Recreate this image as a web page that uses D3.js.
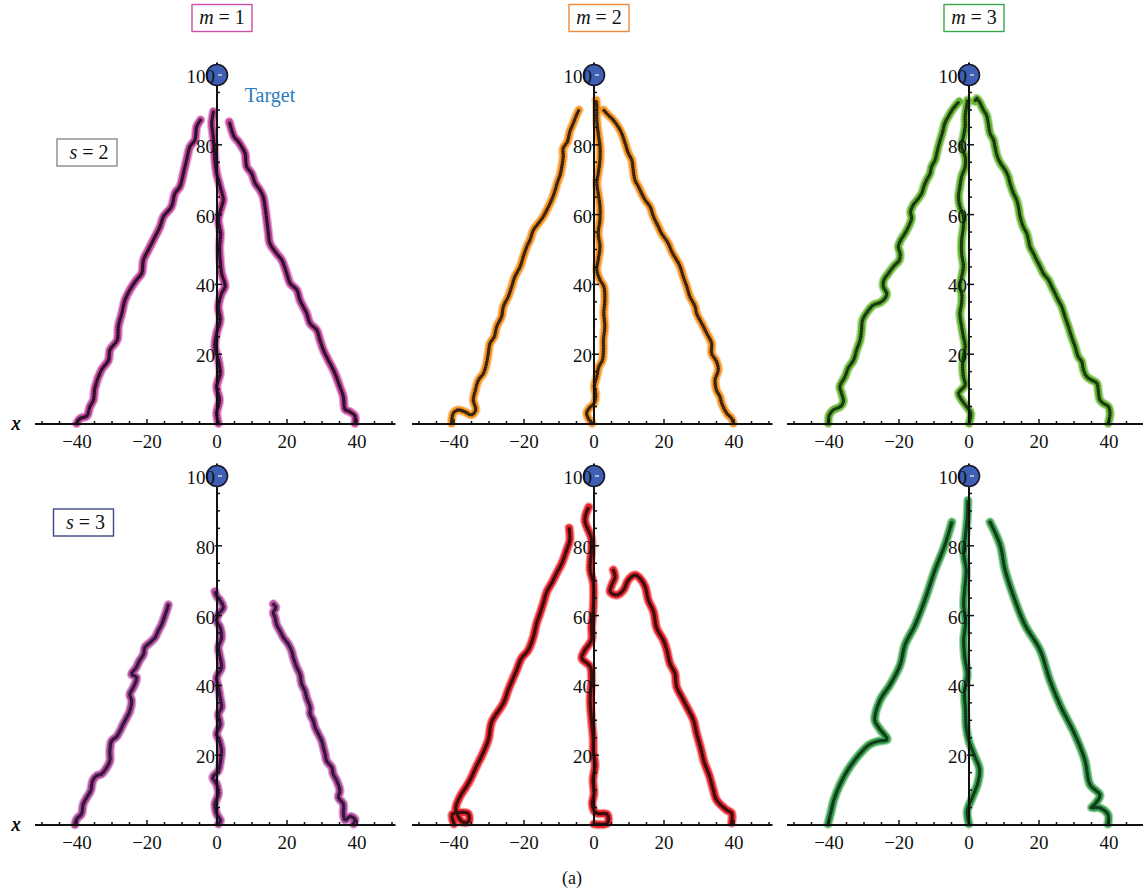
<!DOCTYPE html>
<html lang="en">
<head>
<meta charset="UTF-8">
<title>Trajectories toward the target</title>
<script src="https://cdn.jsdelivr.net/npm/d3@7"></script>
<style>
body { margin: 0; background: #fff; }
text { font-family: "Liberation Serif", "DejaVu Serif", serif; fill: #111; }
</style>
</head>
<body>
<svg width="1143" height="894"></svg>
<script>
// ---- data, [x, y] pairs ----
var m1s2Left = [[-40.1,0.2],[-39.1,1.6],[-37.2,2.3],[-36.3,5.0],[-35.3,6.9],[-34.9,10.2],[-33.0,15.5],[-31.0,18.3],[-30.6,21.2],[-28.5,24.1],[-28.2,27.9],[-27.2,31.7],[-26.3,35.5],[-24.9,38.4],[-23.0,41.3],[-21.5,43.2],[-21.0,47.0],[-19.6,49.9],[-18.2,52.7],[-16.3,56.5],[-15.3,59.4],[-13.0,62.3],[-12.0,66.1],[-10.6,68.0],[-9.6,71.8],[-8.7,75.6],[-7.7,79.5],[-6.3,81.4],[-5.8,85.2],[-4.7,87.1]];
var m1s2Mid = [[0.4,0.2],[-0.1,3.1],[0.7,6.9],[-0.1,10.7],[0.9,14.5],[0.4,18.3],[-0.6,22.2],[-0.1,26.0],[0.9,29.8],[0.4,33.6],[1.3,37.4],[2.3,39.4],[1.3,43.2],[0.9,47.0],[0.7,50.8],[1.0,54.6],[0.4,58.5],[1.3,62.3],[1.8,64.2],[0.9,68.0],[-0.1,71.8],[-0.6,75.6],[-0.8,79.5],[-1.2,83.3],[-1.5,86.2],[-1.0,89.5]];
var m1s2Right = [[39.4,0.2],[39.4,2.3],[38.0,3.5],[36.6,4.2],[36.1,7.8],[35.1,10.7],[33.7,14.5],[32.8,16.4],[31.8,18.3],[30.4,21.2],[29.4,24.1],[28.5,26.9],[26.6,28.8],[25.6,31.7],[23.7,35.5],[22.8,38.4],[20.9,40.3],[19.9,43.2],[18.5,47.0],[17.0,48.9],[15.1,51.8],[14.7,54.6],[14.2,58.5],[13.7,62.3],[13.2,65.1],[12.3,67.0],[10.9,69.0],[9.9,71.8],[8.5,73.7],[8.0,77.6],[7.0,79.5],[6.1,80.9],[4.9,82.3],[4.2,84.2],[3.5,86.6]];

var m2s2Left = [[-40.7,0.2],[-40.2,3.1],[-38.8,4.0],[-36.9,3.5],[-35.0,2.6],[-33.8,4.0],[-34.5,6.9],[-34.0,9.3],[-33.0,12.6],[-31.6,14.5],[-30.7,17.4],[-30.2,20.2],[-29.7,23.1],[-28.5,25.0],[-27.8,27.9],[-26.4,30.8],[-25.9,33.6],[-24.5,36.5],[-23.5,39.4],[-22.6,42.2],[-21.1,45.1],[-20.2,47.9],[-19.2,50.8],[-18.3,52.7],[-17.3,55.6],[-15.9,57.5],[-14.5,59.4],[-13.5,61.3],[-12.1,64.2],[-11.1,67.0],[-10.4,69.4],[-9.7,71.3],[-9.2,73.7],[-8.8,76.6],[-8.8,79.0],[-7.6,80.9],[-6.9,83.8],[-5.9,86.2],[-5.0,88.5],[-4.3,90.0]];
var m2s2Mid = [[-0.5,0.2],[-1.6,1.6],[-2.1,3.1],[-1.4,4.5],[0.0,5.9],[0.5,8.3],[0.1,10.7],[0.8,13.6],[1.4,16.4],[2.4,18.3],[2.7,21.2],[2.7,24.1],[3.1,27.9],[2.8,31.7],[3.1,35.5],[2.8,39.4],[1.7,41.3],[0.8,44.1],[1.2,47.0],[1.7,50.8],[1.2,54.6],[1.7,58.5],[1.7,62.3],[1.2,66.1],[0.8,69.0],[1.2,71.8],[1.7,75.6],[1.7,79.5],[1.2,83.3],[0.8,87.1],[0.8,90.9],[0.6,92.8]];
var m2s2Right = [[39.8,0.2],[39.3,1.6],[37.9,3.1],[36.5,5.9],[36.0,7.8],[35.0,9.7],[34.6,12.6],[35.5,15.5],[35.0,17.9],[33.6,20.2],[33.6,23.1],[32.2,26.0],[30.8,28.8],[29.3,31.7],[28.9,33.6],[27.4,36.5],[26.5,39.4],[25.5,42.2],[24.6,45.1],[23.6,47.0],[22.2,49.4],[21.2,51.8],[19.3,54.6],[18.4,56.5],[17.0,59.4],[16.0,62.3],[14.6,64.2],[13.6,66.1],[12.7,68.0],[11.7,69.9],[11.2,72.8],[10.8,75.6],[9.8,77.6],[8.9,80.4],[7.9,83.3],[6.9,85.2],[5.5,87.1],[4.1,88.5],[2.7,90.0]];

var m3s2Left = [[-40.2,0.2],[-39.9,2.6],[-38.8,4.0],[-36.7,5.0],[-35.9,6.4],[-36.4,8.8],[-36.9,10.7],[-35.4,13.6],[-34.5,16.0],[-33.0,18.3],[-32.1,21.2],[-31.1,24.1],[-30.7,26.9],[-30.4,29.8],[-29.0,32.2],[-27.3,34.1],[-25.4,34.8],[-24.0,36.0],[-23.5,37.4],[-24.5,39.4],[-24.3,41.3],[-23.0,43.2],[-21.6,45.1],[-19.9,47.0],[-19.7,48.9],[-20.2,50.8],[-19.5,52.7],[-18.3,54.6],[-17.3,56.5],[-16.4,58.9],[-16.7,60.8],[-15.9,62.8],[-14.8,64.2],[-13.5,66.1],[-12.9,68.0],[-12.1,69.9],[-11.1,71.8],[-10.7,73.7],[-9.7,75.6],[-9.2,77.6],[-8.5,80.4],[-7.5,83.8],[-6.9,86.2],[-5.9,88.1],[-4.5,90.4],[-2.8,92.4]];
var m3s2Mid = [[0.0,0.2],[0.5,3.1],[-0.7,5.0],[-2.1,6.9],[-3.0,8.8],[-2.1,9.9],[-1.1,11.2],[-1.6,13.6],[-1.8,16.4],[-1.6,19.3],[-1.1,22.2],[-1.6,25.0],[-2.1,27.9],[-2.6,31.7],[-2.1,34.6],[-2.1,37.4],[-2.6,39.4],[-2.1,42.2],[-1.6,45.1],[-2.1,48.9],[-2.1,52.7],[-1.6,56.5],[-1.6,59.4],[-2.6,62.3],[-3.0,65.1],[-2.6,68.0],[-2.1,70.9],[-1.1,73.7],[-1.1,76.6],[-2.1,79.5],[-1.6,82.3],[-1.1,85.2],[-1.1,88.1],[-0.7,90.9],[-0.4,92.8]];
var m3s2Right = [[39.8,0.2],[40.3,3.1],[39.8,5.0],[38.4,5.9],[37.4,6.9],[37.0,8.8],[36.5,11.7],[35.0,12.6],[33.6,13.6],[32.7,15.5],[32.2,17.9],[31.2,19.3],[30.3,22.2],[29.3,25.0],[28.4,27.9],[27.4,30.8],[26.5,33.6],[25.5,35.5],[24.6,37.4],[23.6,39.4],[22.7,41.3],[21.2,43.2],[20.3,45.1],[19.3,47.0],[18.4,48.9],[17.4,50.8],[17.0,52.7],[16.5,54.6],[15.5,56.5],[14.6,59.4],[14.1,62.3],[13.6,64.2],[12.7,66.1],[11.7,69.0],[11.2,70.9],[10.3,72.8],[9.0,74.7],[8.1,76.6],[7.4,79.5],[7.0,81.4],[6.0,83.3],[5.5,86.2],[5.0,88.5],[4.1,90.0],[3.1,92.1],[2.2,93.3],[1.7,92.4]];

var m1s3Left = [[-40.6,0.1],[-40.1,1.7],[-38.7,3.2],[-38.2,6.0],[-37.2,7.9],[-36.1,9.8],[-35.5,12.7],[-34.4,14.1],[-33.0,14.6],[-31.5,16.5],[-30.6,18.4],[-30.6,21.3],[-30.1,24.1],[-28.7,25.3],[-27.7,27.0],[-26.8,28.9],[-25.8,30.8],[-24.9,32.7],[-24.4,35.6],[-24.9,37.5],[-23.9,39.4],[-23.0,42.3],[-24.4,43.2],[-23.1,45.1],[-22.2,47.0],[-21.0,48.9],[-20.6,50.9],[-19.1,52.3],[-17.7,53.7],[-16.8,55.6],[-15.8,57.5],[-15.1,59.4],[-14.4,61.4],[-13.9,63.1]];
var m1s3Mid = [[0.4,0.3],[1.0,1.2],[-0.1,3.2],[-0.6,6.0],[0.4,8.9],[-0.1,11.7],[-1.2,13.6],[0.4,15.6],[1.0,18.4],[1.3,21.3],[0.7,24.1],[-0.1,26.0],[0.9,28.9],[0.4,31.8],[1.3,33.7],[0.9,36.5],[0.4,39.4],[-0.1,42.3],[1.3,45.1],[0.9,48.0],[0.4,50.9],[1.3,53.7],[0.9,56.6],[-0.1,58.5],[0.4,60.4],[1.8,62.3],[1.0,64.2],[-0.1,65.6],[-0.6,66.9]];
var m1s3Right = [[39.0,0.3],[39.4,1.7],[38.0,2.4],[36.6,1.4],[36.1,3.3],[36.1,6.0],[34.7,7.9],[35.1,9.8],[34.2,12.7],[33.2,14.6],[32.8,16.5],[31.3,18.4],[30.9,20.3],[30.4,22.2],[29.9,24.1],[29.0,26.0],[28.0,28.0],[27.5,29.9],[26.6,31.8],[26.6,33.7],[25.6,36.5],[25.1,38.5],[24.2,40.4],[23.7,43.2],[22.8,45.1],[21.8,48.0],[21.3,49.9],[20.4,51.8],[19.0,53.7],[18.0,55.6],[17.0,57.5],[16.6,59.4],[16.1,60.9],[16.8,62.3],[16.1,63.3]];

var m2s3Left = [[-40.0,0.3],[-40.5,3.0],[-38.0,3.6],[-36.0,3.3],[-35.8,1.0],[-37.5,0.8],[-39.5,4.5],[-38.3,8.1],[-36.5,11.0],[-35.4,12.9],[-33.5,17.0],[-32.0,20.0],[-30.2,24.4],[-29.2,29.6],[-25.9,34.9],[-24.5,38.7],[-22.1,44.4],[-20.7,47.8],[-18.8,50.1],[-17.3,54.0],[-16.4,57.8],[-15.4,60.7],[-14.5,63.5],[-13.5,66.8],[-12.1,69.3],[-10.7,72.1],[-9.2,75.0],[-7.8,78.8],[-6.9,81.7],[-7.1,85.1]];
var m2s3Mid = [[0.0,0.3],[3.8,0.5],[3.8,3.0],[0.5,3.5],[-0.5,6.0],[0.0,9.0],[-0.3,13.0],[0.3,17.0],[-0.2,21.0],[-0.2,24.4],[-0.7,30.1],[-1.1,35.8],[-0.7,41.5],[-1.1,45.4],[-3.5,47.8],[-2.6,50.1],[-0.7,53.0],[-0.7,56.8],[-0.2,62.5],[-0.2,69.3],[-1.1,73.1],[-0.7,81.7],[-2.6,87.4],[-1.5,91.1]];
var m2s3Right = [[39.3,0.6],[39.3,3.4],[37.9,4.3],[35.0,7.2],[34.1,10.0],[33.0,14.0],[31.5,18.0],[30.5,22.0],[29.3,26.3],[28.4,30.1],[26.5,33.9],[25.0,36.8],[23.6,39.6],[23.1,43.5],[21.7,46.3],[20.8,50.1],[19.8,53.0],[17.9,56.4],[17.0,61.1],[15.5,64.5],[14.6,68.3],[13.1,70.7],[11.7,71.6],[9.8,70.2],[8.4,67.3],[6.5,65.9],[4.6,66.8],[5.1,68.8],[6.0,71.1],[5.5,73.1]];

var m3s3Left = [[-40.3,0.3],[-39.5,3.5],[-38.6,7.2],[-36.9,11.5],[-34.6,15.8],[-31.5,20.0],[-28.5,23.0],[-26.0,24.0],[-23.4,24.5],[-25.5,27.5],[-26.9,30.0],[-25.4,35.8],[-22.6,40.1],[-19.7,45.8],[-18.3,51.6],[-15.4,57.3],[-12.6,64.5],[-9.7,73.1],[-6.9,80.2],[-4.9,86.8]];
var m3s3Mid = [[0.0,0.3],[-0.5,4.0],[1.0,8.0],[2.5,12.0],[3.0,16.0],[1.5,20.0],[0.0,24.0],[-0.8,28.0],[-1.0,33.0],[-1.3,38.0],[-0.5,43.0],[-1.2,48.0],[-1.5,53.0],[-1.0,58.0],[-1.5,63.0],[-1.2,68.0],[-0.8,73.0],[-1.5,78.0],[-1.0,83.0],[-0.5,88.0],[-0.3,93.0]];
var m3s3Right = [[39.7,0.3],[39.7,3.0],[37.4,4.9],[35.0,5.0],[36.0,6.0],[37.4,8.6],[34.6,11.5],[33.1,18.6],[30.3,25.8],[26.0,34.4],[23.1,41.5],[20.3,50.1],[16.0,57.3],[13.1,64.5],[10.3,73.1],[8.9,80.2],[6.0,86.8]];

var colTitles = ["1", "2", "3"];          // m values
var rowTitles = ["2", "3"];               // s values
var xMajorTicks = [-40, -20, 0, 20, 40];
var yMajorTicks = [20, 40, 60, 80, 100];
var targetPoint = [0, 100];

var glowColors = [["#c2419f", "#f7921e", "#62b52f"], ["#b2479c", "#e8232b", "#38a24a"]];
var inkColors  = [["#2a1426", "#3a2412", "#1d3714"], ["#30183a", "#3a0e0e", "#123a1e"]];
var colTitleBorders = ["#c94fa8", "#f08a3c", "#3aa64a"];
var rowTitleBorders = ["#8a8a8a", "#3d4a82"];

var trajectories = [
    [[m1s2Left, m1s2Mid, m1s2Right], [m2s2Left, m2s2Mid, m2s2Right], [m3s2Left, m3s2Mid, m3s2Right]],
    [[m1s3Left, m1s3Mid, m1s3Right], [m2s3Left, m2s3Mid, m2s3Right], [m3s3Left, m3s3Mid, m3s3Right]]
];

// ---- layout ----
var svg = d3.select("svg");
var colX = [217, 594, 969];   // pixel of x = 0 in each column
var rowY = [424, 825];        // pixel of y = 0 in each row
var pxPerUnit = 3.5, pxPerUnitY = 3.49;

function panel(r, c) {
    var x0 = colX[c], y0 = rowY[r];
    var x = d3.scaleLinear().domain([0, 10]).range([x0, x0 + 10 * pxPerUnit]);
    var y = d3.scaleLinear().domain([0, 10]).range([y0, y0 - 10 * pxPerUnitY]);
    var g = svg.append("g");

    var line = d3.line()
        .x(function(d) { return x(d[0]); })
        .y(function(d) { return y(d[1]); })
        .curve(d3.curveCatmullRom.alpha(0.5));

    trajectories[r][c].forEach(function(tr) {
        g.append("path").attr("d", line(tr)).attr("fill", "none")
            .attr("stroke", glowColors[r][c]).attr("stroke-opacity", 0.45)
            .attr("stroke-width", 9.5).attr("stroke-linejoin", "round").attr("stroke-linecap", "round");
        g.append("path").attr("d", line(tr)).attr("fill", "none")
            .attr("stroke", glowColors[r][c])
            .attr("stroke-width", 7).attr("stroke-linejoin", "round").attr("stroke-linecap", "round");
        g.append("path").attr("d", line(tr)).attr("fill", "none")
            .attr("stroke", inkColors[r][c]).attr("stroke-width", 2)
            .attr("stroke-linejoin", "round");
        g.append("path").attr("d", line(tr)).attr("fill", "none")
            .attr("stroke", inkColors[r][c]).attr("stroke-width", 3.6)
            .attr("stroke-dasharray", "0 2.6").attr("stroke-linecap", "round");
    });

    // x axis
    g.append("line").attr("x1", x(-52)).attr("x2", x(51))
        .attr("y1", y(0)).attr("y2", y(0)).attr("stroke", "#111").attr("stroke-width", 2);
    d3.range(-50, 51, 5).forEach(function(t) {
        var major = t % 20 === 0;
        g.append("line").attr("x1", x(t)).attr("x2", x(t))
            .attr("y1", y(0)).attr("y2", y(0) - (major ? 5 : 3))
            .attr("stroke", "#111").attr("stroke-width", 1.5);
    });
    xMajorTicks.forEach(function(t) {
        g.append("text").attr("x", x(t)).attr("y", y(0) + 24)
            .attr("text-anchor", "middle").style("font-size", "19px")
            .text(t < 0 ? "\u2212" + Math.abs(t) : t);
    });
    g.append("text").attr("x", 16).attr("y", y(0) + 6).attr("text-anchor", "middle")
        .style("font-size", "20px").style("font-style", "italic").text("x");

    // y axis
    g.append("line").attr("x1", x(0)).attr("x2", x(0))
        .attr("y1", y(0)).attr("y2", y(103.6)).attr("stroke", "#111").attr("stroke-width", 2);
    d3.range(5, 101, 5).forEach(function(t) {
        var major = t % 20 === 0;
        g.append("line").attr("x1", x(0) - (major ? 2 : 0)).attr("x2", x(0) + (major ? 5 : 3))
            .attr("y1", y(t)).attr("y2", y(t)).attr("stroke", "#111").attr("stroke-width", 1.5);
    });

    // target
    g.append("circle").attr("cx", x(targetPoint[0])).attr("cy", y(targetPoint[1])).attr("r", 10.5)
        .attr("fill", "#3d5fb4").attr("stroke", "#1a1a2a").attr("stroke-width", 1.6);
    g.append("line").attr("x1", x(0) + 1).attr("x2", x(0) + 5)
        .attr("y1", y(100)).attr("y2", y(100)).attr("stroke", "#ddd").attr("stroke-width", 1.4);

    yMajorTicks.forEach(function(t) {
        g.append("text").attr("x", x(0) - 2).attr("y", y(t) + 8)
            .attr("text-anchor", "end").style("font-size", "19px").text(t);
    });
}

for (var r = 0; r < 2; r++) for (var c = 0; c < 3; c++) panel(r, c);

// column titles  (m = ...)
colTitles.forEach(function(m, c) {
    var cx = colX[c] + 5;
    svg.append("rect").attr("x", cx - 30).attr("y", 4.5).attr("width", 60).attr("height", 27)
        .attr("fill", "#fff").attr("stroke", colTitleBorders[c]).attr("stroke-width", 1.4);
    var t = svg.append("text").attr("x", cx).attr("y", 24).attr("text-anchor", "middle").style("font-size", "20px");
    t.append("tspan").style("font-style", "italic").text("m");
    t.append("tspan").text(" = " + m);
});

// row titles  (s = ...)
var rowBox = [[57, 139], [53.5, 509]];
rowTitles.forEach(function(s, r) {
    svg.append("rect").attr("x", rowBox[r][0]).attr("y", rowBox[r][1]).attr("width", 60).attr("height", 27)
        .attr("fill", "#fff").attr("stroke", rowTitleBorders[r]).attr("stroke-width", 1.4);
    var t = svg.append("text").attr("x", rowBox[r][0] + 32).attr("y", rowBox[r][1] + 20)
        .attr("text-anchor", "middle").style("font-size", "20px");
    t.append("tspan").style("font-style", "italic").text("s");
    t.append("tspan").text(" = " + s);
});

svg.append("text").attr("x", 270).attr("y", 102).attr("text-anchor", "middle")
    .style("font-size", "20px").style("fill", "#2b7bc0").text("Target");

svg.append("text").attr("x", 572).attr("y", 884).attr("text-anchor", "middle")
    .style("font-size", "18px").text("(a)");
</script>
</body>
</html>
